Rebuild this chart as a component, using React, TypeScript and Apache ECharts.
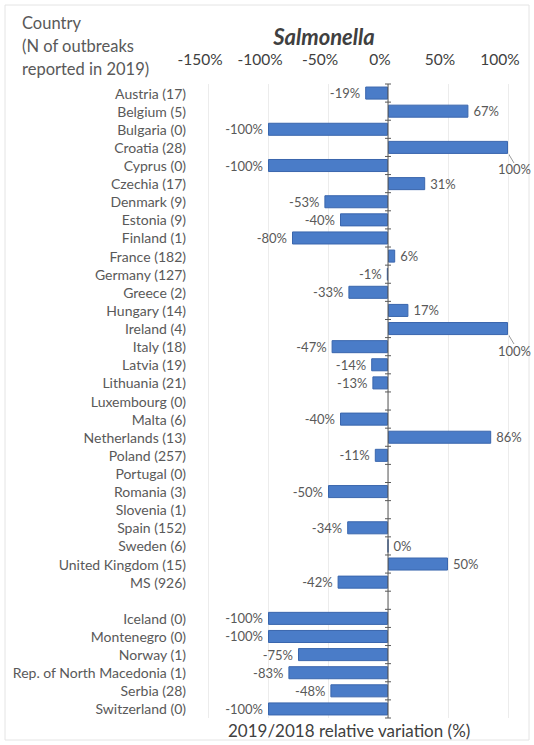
import React, { useEffect, useRef } from "react";
import * as echarts from "echarts";

const countries = [
  "Austria (17)", "Belgium (5)", "Bulgaria (0)", "Croatia (28)", "Cyprus (0)", "Czechia (17)",
  "Denmark (9)", "Estonia (9)", "Finland (1)", "France (182)", "Germany (127)", "Greece (2)",
  "Hungary (14)", "Ireland (4)", "Italy (18)", "Latvia (19)", "Lithuania (21)", "Luxembourg (0)",
  "Malta (6)", "Netherlands (13)", "Poland (257)", "Portugal (0)", "Romania (3)", "Slovenia (1)",
  "Spain (152)", "Sweden (6)", "United Kingdom (15)", "MS (926)", "",
  "Iceland (0)", "Montenegro (0)", "Norway (1)", "Rep. of North Macedonia (1)", "Serbia (28)", "Switzerland (0)",
];
const variation: (number | null)[] = [
  -19, 67, -100, 100, -100, 31,
  -53, -40, -80, 6, -1, -33,
  17, 100, -47, -14, -13, null,
  -40, 86, -11, null, -50, null,
  -34, 0, 50, -42, null,
  -100, -100, -75, -83, -48, -100,
];
const xTicks = { min: -150, max: 100, interval: 50 };
const movedLabels = ["Croatia (28)", "Ireland (4)"];

const FONT = "Lato, 'Open Sans', sans-serif";
const AXIS_COLOR = "#595959";

export default function App() {
  const ref = useRef<HTMLDivElement>(null);
  useEffect(() => {
    if (!ref.current) return;
    const chart = echarts.init(ref.current, null, { renderer: "svg" });
    const data = variation.map((v, i) => {
      if (v === null) return { value: "-" as any, label: { show: false } };
      const moved = movedLabels.includes(countries[i]);
      return {
        value: v,
        label: {
          show: true,
          position: v < 0 ? "left" : "right",
          ...(moved ? { position: "insideBottomRight", offset: [28, 27] } : {}),
        },
      };
    });
    const last = countries.length - 1;
    chart.setOption({
      animation: false,
      title: {
        text: "Salmonella",
        left: 319,
        top: 20,
        textAlign: "center",
        textStyle: { fontFamily: FONT, fontSize: 22, fontWeight: "bold", fontStyle: "italic", color: "#404040" },
      },
      grid: { left: 208, right: 26, top: 84, bottom: 27, containLabel: false },
      xAxis: {
        type: "value",
        position: "top",
        min: xTicks.min,
        max: xTicks.max,
        interval: xTicks.interval,
        axisLine: { show: false },
        axisTick: { show: false },
        axisLabel: {
          formatter: "{value}%",
          color: "#404040",
          fontSize: 15.5,
          fontFamily: FONT,
          margin: 17,
          padding: [0, 16, 0, 0],
        },
        splitLine: { show: true, lineStyle: { color: "#ececec", width: 1 } },
      },
      yAxis: {
        type: "category",
        data: countries,
        inverse: true,
        axisLine: { show: false, onZero: false },
        axisTick: { show: false },
        axisLabel: { color: "#595959", fontSize: 14, fontFamily: FONT, margin: 22, interval: 0 },
      },
      series: [
        {
          type: "bar",
          data,
          barCategoryGap: "28%",
          itemStyle: { color: "#4a7cc8", borderColor: "#3a66ad", borderWidth: 1 },
          label: {
            show: true,
            formatter: (p: any) => `${p.value}%`,
            color: "#595959",
            fontSize: 13,
            fontFamily: FONT,
            distance: 5,
          },
          z: 2,
        },
        {
          type: "custom",
          silent: true,
          z: 3,
          data: countries.map((_, i) => [0, i]),
          encode: { x: 0, y: 1 },
          renderItem: (params: any, api: any) => {
            const idx = api.value(1);
            const c = api.coord([0, idx]);
            const h = api.size([0, 1])[1];
            const top = c[1] - h / 2;
            const bot = c[1] + h / 2;
            const st = { stroke: AXIS_COLOR, lineWidth: 1 };
            const children: any[] = [
              { type: "line", shape: { x1: c[0], y1: top, x2: c[0], y2: bot }, style: st },
              { type: "line", shape: { x1: c[0] - 3, y1: top, x2: c[0] + 3, y2: top }, style: st },
            ];
            if (idx === last) {
              children.push({ type: "line", shape: { x1: c[0] - 3, y1: bot, x2: c[0] + 3, y2: bot }, style: st });
            }
            return { type: "group", children };
          },
        },
      ],
      graphic: [
        {
          type: "rect",
          shape: { x: 5, y: 5, width: 524, height: 735 },
          style: { fill: "none", stroke: "#e4e4e4", lineWidth: 1 },
          silent: true,
        },
        {
          type: "text",
          left: 22,
          top: 11,
          style: {
            text: "Country\n(N of outbreaks\nreported in 2019)",
            fontSize: 16.5,
            lineHeight: 23,
            fontFamily: FONT,
            fill: "#595959",
          },
        },
        {
          type: "text",
          left: 228,
          top: 722,
          style: {
            text: "2019/2018 relative variation (%)",
            fontSize: 17,
            fontFamily: FONT,
            fill: "#404040",
          },
        },
        {
          type: "line",
          shape: { x1: 508, y1: 153, x2: 514, y2: 163 },
          style: { stroke: "#999", lineWidth: 1 },
        },
        {
          type: "line",
          shape: { x1: 508, y1: 334, x2: 514, y2: 344 },
          style: { stroke: "#999", lineWidth: 1 },
        },
      ],
    });
    return () => chart.dispose();
  }, []);
  return <div ref={ref} style={{ width: 534, height: 745, position: "absolute", left: 0, top: 0, background: "#fff" }} />;
}
